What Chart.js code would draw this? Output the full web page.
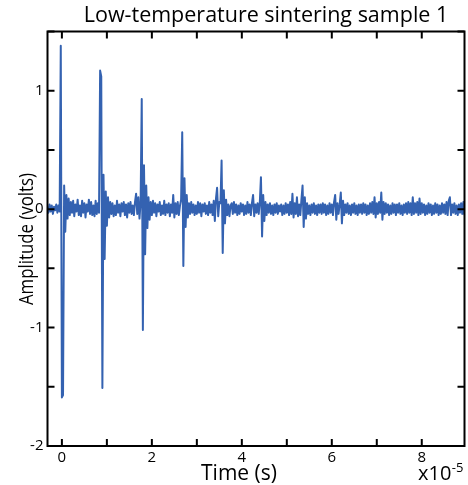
<!DOCTYPE html>
<html>
<head>
<meta charset="utf-8">
<script src="https://cdn.jsdelivr.net/npm/chart.js@4/dist/chart.umd.min.js"></script>
<style>
  html, body { margin: 0; padding: 0; background: #fff; }
  canvas { display: block; }
</style>
</head>
<body>
<canvas id="c" width="468" height="485"></canvas>
<script>
// ---- Data (time in units of 1e-5 s, amplitude in volts) ----
const TITLE = 'Low-temperature sintering sample 1';
const X_TITLE = 'Time (s)';
const Y_TITLE = 'Amplitude (volts)';
const X_EXPONENT_BASE = 'x10';
const X_EXPONENT = '-5';

const TIME_START = -0.325;   // first sample time (x1e-5 s)
const TIME_STEP = 0.025;     // sample interval (x1e-5 s)

const X_LABELED_TICKS = [0, 2, 4, 6, 8];
const Y_LABELED_TICKS = [-2, -1, 0, 1];

const amplitude = [
  /*   0 */  0.02, -0.03,  0.04, -0.02,  0.03, -0.04,  0.02, -0.01,  0.04, -0.03,
  /*  10 */  0.03, -0.02,  1.38, -1.59, -1.57,  0.20, -0.19,  0.12, -0.08,  0.09,
  /*  20 */ -0.05,  0.06, -0.03,  0.07, -0.06,  0.04, -0.02,  0.08, -0.05,  0.03,
  /*  30 */ -0.06,  0.07, -0.03,  0.05, -0.07,  0.04, -0.02,  0.08, -0.04,  0.06,
  /*  40 */ -0.05,  0.03, -0.06,  0.07, -0.04,  0.05, -0.03,  1.17,  1.12, -1.51,
  /*  50 */  0.29, -0.42,  0.15, -0.14,  0.10, -0.07,  0.06, -0.04,  0.05, -0.06,
  /*  60 */  0.03, -0.05,  0.07, -0.03,  0.04, -0.06,  0.05, -0.02,  0.06, -0.05,
  /*  70 */  0.04, -0.07,  0.05, -0.03,  0.06, -0.04,  0.03, -0.05,  0.06,  0.13,
  /*  80 */ -0.04,  0.10, -0.08,  0.06,  0.93, -1.02,  0.37, -0.38,  0.20, -0.16,
  /*  90 */  0.10, -0.09,  0.06, -0.05,  0.07, -0.03,  0.05, -0.06,  0.04, -0.02,
  /* 100 */  0.06, -0.05,  0.03, -0.04,  0.07, -0.05,  0.04, -0.03,  0.05, -0.06,
  /* 110 */  0.04, -0.03,  0.12, -0.07,  0.05, -0.04,  0.06, -0.05,  0.03,  0.08,
  /* 120 */  0.65, -0.48,  0.26, -0.15,  0.12, -0.07,  0.05, -0.04,  0.06, -0.03,
  /* 130 */  0.04, -0.05,  0.03, -0.04,  0.06, -0.03,  0.05, -0.06,  0.04, -0.02,
  /* 140 */  0.05, -0.04,  0.03, -0.05,  0.06, -0.03,  0.04, -0.05,  0.07, -0.10,
  /* 150 */  0.09,  0.18, -0.06,  0.06,  0.05,  0.41, -0.37,  0.16, -0.12,  0.08,
  /* 160 */ -0.05,  0.04, -0.06,  0.03,  0.05, -0.04,  0.06, -0.03,  0.04, -0.05,
  /* 170 */  0.03, -0.04,  0.05, -0.02,  0.04, -0.05,  0.03, -0.04,  0.06, -0.03,
  /* 180 */  0.04, -0.05,  0.05,  0.12, -0.06,  0.04, -0.03,  0.05, -0.04,  0.06,
  /* 190 */  0.27, -0.23,  0.12, -0.10,  0.06, -0.05,  0.04, -0.03,  0.05, -0.04,
  /* 200 */  0.03, -0.05,  0.04, -0.03,  0.05, -0.04,  0.03, -0.02,  0.04, -0.05,
  /* 210 */  0.03, -0.04,  0.05, -0.03,  0.04, -0.05,  0.06, -0.04,  0.13, -0.07,
  /* 220 */  0.05, -0.04,  0.10, -0.06,  0.04, -0.05,  0.08,  0.20, -0.15,  0.10,
  /* 230 */ -0.08,  0.05, -0.04,  0.03, -0.05,  0.04, -0.03,  0.05, -0.04,  0.03,
  /* 240 */ -0.05,  0.04, -0.03,  0.04, -0.04,  0.05, -0.03,  0.04, -0.05,  0.03,
  /* 250 */ -0.04,  0.05, -0.03,  0.04, -0.05,  0.06,  0.12, -0.09,  0.05, -0.04,
  /* 260 */  0.04,  0.14, -0.12,  0.07, -0.05,  0.04, -0.03,  0.05, -0.04,  0.03,
  /* 270 */ -0.05,  0.04, -0.03,  0.05, -0.04,  0.03, -0.05,  0.04, -0.03,  0.04,
  /* 280 */ -0.04,  0.05, -0.03,  0.04, -0.05,  0.03, -0.04,  0.05, -0.03,  0.06,
  /* 290 */ -0.04,  0.10, -0.07,  0.05, -0.04,  0.06, -0.03,  0.14, -0.09,  0.06,
  /* 300 */ -0.04,  0.05, -0.03,  0.04, -0.05,  0.03, -0.04,  0.05, -0.03,  0.04,
  /* 310 */ -0.05,  0.04, -0.03,  0.05, -0.04,  0.03, -0.05,  0.04, -0.03,  0.05,
  /* 320 */ -0.04,  0.06, -0.03,  0.05, -0.05,  0.10, -0.04,  0.05, -0.03,  0.06,
  /* 330 */ -0.05,  0.09, -0.04,  0.05, -0.03,  0.04, -0.05,  0.03, -0.04,  0.05,
  /* 340 */ -0.03,  0.04, -0.05,  0.03, -0.04,  0.05, -0.03,  0.04, -0.05,  0.03,
  /* 350 */ -0.04,  0.05, -0.03,  0.04, -0.04,  0.06, -0.05,  0.07,  0.10, -0.05,
  /* 360 */  0.04, -0.03,  0.05, -0.04,  0.03, -0.05,  0.04, -0.03,  0.05, -0.04,
  /* 370 */  0.06, -0.05,  0.07, -0.06
];

// ---- Build points from the sampled series ----
const points = amplitude.map((v, i) => ({ x: TIME_START + i * TIME_STEP, y: v }));

const FONT = "'Open Sans', 'Noto Sans', sans-serif";

const framePlugin = {
  id: 'frameAndText',
  afterDraw(chart) {
    const { ctx, chartArea: a, scales: { x, y } } = chart;
    ctx.save();
    // frame
    ctx.strokeStyle = '#000';
    ctx.lineWidth = 2;
    ctx.strokeRect(a.left, a.top, a.right - a.left, a.bottom - a.top);
    // inward ticks on all four sides
    const TL = 7;
    ctx.beginPath();
    x.ticks.forEach(t => {
      const px = x.getPixelForValue(t.value);
      ctx.moveTo(px, a.bottom); ctx.lineTo(px, a.bottom - TL);
      ctx.moveTo(px, a.top); ctx.lineTo(px, a.top + TL);
    });
    y.ticks.forEach(t => {
      const py = y.getPixelForValue(t.value);
      ctx.moveTo(a.left, py); ctx.lineTo(a.left + TL, py);
      ctx.moveTo(a.right, py); ctx.lineTo(a.right - TL, py);
    });
    ctx.stroke();

    ctx.fillStyle = '#000';
    // chart title
    ctx.font = `21.5px ${FONT}`;
    ctx.textAlign = 'center';
    ctx.textBaseline = 'alphabetic';
    ctx.fillText(TITLE, 266, 22);

    // x axis title
    ctx.font = `21px ${FONT}`;
    ctx.fillText(X_TITLE, 239, 480);

    // exponent
    ctx.textAlign = 'left';
    ctx.font = `20px ${FONT}`;
    const baseW = ctx.measureText(X_EXPONENT_BASE).width;
    ctx.fillText(X_EXPONENT_BASE, 418, 480);
    ctx.font = `13px ${FONT}`;
    ctx.fillText(X_EXPONENT, 418 + baseW + 0.5, 472);

    // y axis title (rotated, slightly condensed like the original face)
    ctx.save();
    ctx.translate(33, 305);
    ctx.rotate(-Math.PI / 2);
    ctx.scale(0.84, 1);
    ctx.font = `20px ${FONT}`;
    ctx.textAlign = 'left';
    ctx.fillText(Y_TITLE, 0, 0);
    ctx.restore();

    ctx.restore();
  }
};

new Chart(document.getElementById('c'), {
  type: 'line',
  data: {
    datasets: [{
      data: points,
      borderColor: '#3462b1',
      borderWidth: 2,
      borderJoinStyle: 'round',
      pointRadius: 0,
      tension: 0,
      fill: false
    }]
  },
  options: {
    responsive: false,
    animation: false,
    devicePixelRatio: 1,
    layout: { padding: { top: 31.5, right: 3.5, left: 0, bottom: 0 } },
    plugins: { legend: { display: false }, tooltip: { enabled: false }, title: { display: false } },
    scales: {
      x: {
        type: 'linear',
        min: -0.32,
        max: 8.95,
        grid: { display: false, drawTicks: false },
        border: { display: false },
        ticks: {
          stepSize: 1,
          includeBounds: false,
          autoSkip: false,
          maxRotation: 0,
          padding: 3,
          color: '#000',
          font: { family: FONT, size: 15 },
          callback: v => X_LABELED_TICKS.includes(v) ? String(v) : ''
        },
        afterFit: s => { s.height = 39; }
      },
      y: {
        type: 'linear',
        min: -2,
        max: 1.5,
        grid: { display: false, drawTicks: false },
        border: { display: false },
        ticks: {
          stepSize: 0.5,
          includeBounds: false,
          autoSkip: false,
          padding: 4,
          color: '#000',
          font: { family: FONT, size: 15 },
          callback: v => Y_LABELED_TICKS.includes(v) ? String(v) : ''
        },
        afterFit: s => { s.width = 47.5; }
      }
    }
  },
  plugins: [framePlugin]
});
</script>
</body>
</html>
